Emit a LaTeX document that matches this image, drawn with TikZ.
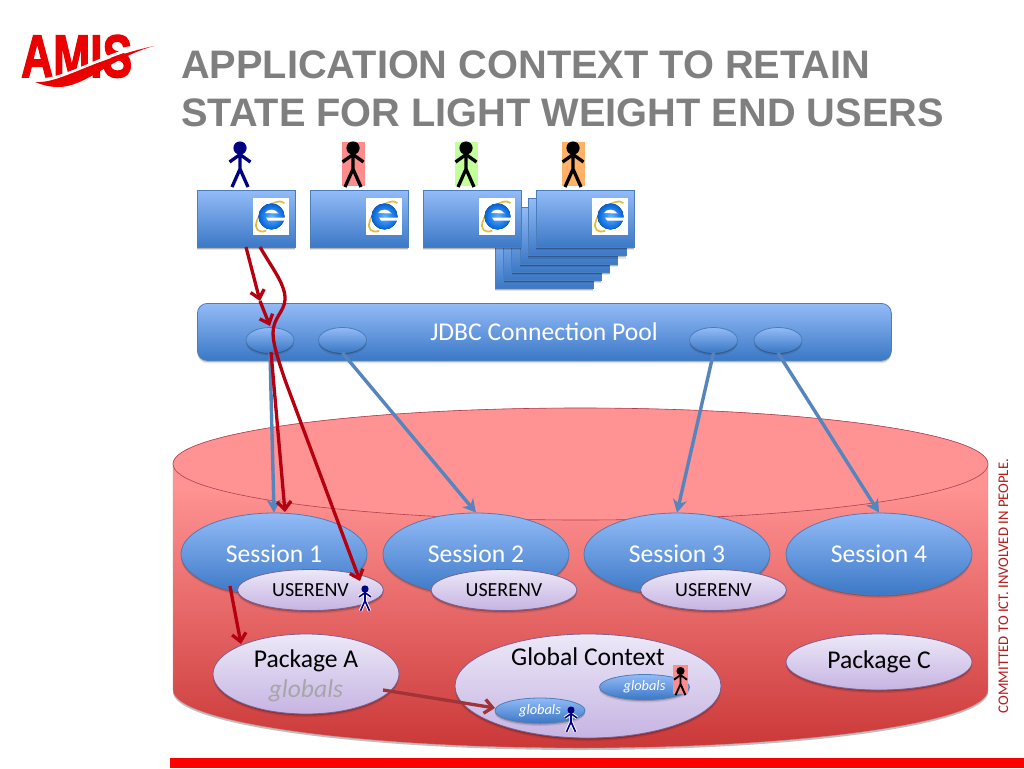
\documentclass[tikz,border=0pt]{standalone}
\usepackage{fontspec}
\usepackage{graphicx}
\setmainfont{Carlito}
\newfontfamily\headfont{Liberation Sans}
\newfontfamily\logofont{Liberation Sans}[BoldFeatures={FakeBold=2.5}]
\usetikzlibrary{shapes.geometric,shadows,arrows.meta}
\definecolor{blueedge}{HTML}{4A7EBB}
\definecolor{bluetop}{HTML}{93BBF7}
\definecolor{bluebot}{HTML}{3B78C6}
\definecolor{liltop}{HTML}{ECE8F8}
\definecolor{lilbot}{HTML}{C6B4E2}
\definecolor{liledge}{HTML}{7A5F90}
\definecolor{arrowblue}{HTML}{5585BC}
\definecolor{arrowred}{HTML}{B5000F}
\definecolor{arrowbrown}{HTML}{A03436}
\definecolor{titlegrey}{HTML}{7F7F7F}
\definecolor{figblue}{HTML}{000080}
\definecolor{cyltop}{HTML}{FF9292}
\definecolor{cylbot}{HTML}{CB3838}
\definecolor{cyledge}{HTML}{B04050}
\definecolor{ringgold}{HTML}{E2BC3C}
\pgfdeclareverticalshading{cylshade}{100bp}{color(0bp)=(cylbot); color(25bp)=(cylbot); color(63bp)=(cyltop); color(100bp)=(cyltop)}
\tikzset{
  softshadow/.style={general shadow={shadow yshift=-3pt,fill=black,opacity=.10},
                     general shadow={shadow yshift=-1.5pt,fill=black,opacity=.22}},
  bluefill/.style={top color=bluetop,bottom color=bluebot,draw=blueedge,line width=.8pt,softshadow},
  lilfill/.style={top color=liltop,bottom color=lilbot,draw=liledge,line width=.8pt,softshadow},
  browser/.style={rectangle,bluefill,anchor=north west,minimum width=97.8pt,minimum height=57pt,inner sep=0pt},
  poolstub/.style={ellipse,bluefill,minimum width=48pt,minimum height=25pt,inner sep=0pt},
  session/.style={ellipse,bluefill,minimum width=186pt,minimum height=82pt,inner sep=0pt,text=white,font=\fontsize{25.6}{28}\selectfont},
  envnode/.style={ellipse,lilfill,minimum width=146pt,minimum height=41pt,inner sep=0pt,font=\fontsize{20}{22}\selectfont},
  smallglob/.style={ellipse,bluefill,minimum width=90pt,minimum height=25pt,inner sep=0pt,text=white,font=\fontsize{14.4}{16}\selectfont\itshape},
  bigtext/.style={inner sep=0pt,font=\fontsize{25.6}{28}\selectfont},
  bluearrow/.style={draw=arrowblue,line width=3.4pt,-{Stealth[length=13pt,width=14pt,inset=4pt]}},
  redarrow/.style={draw=arrowred,line width=3.3pt,-{Straight Barb[length=8pt,width=14pt]}},
  pics/person/.style 2 args={code={
    \fill[#1] (0,0) circle[radius=6.6];
    \draw[#1,line width=#2,line join=round]
      (0,5) -- (0,21) (-8,39) -- (0,21) -- (8,39)
      (-10.5,14) -- (0,6.5) -- (10.5,14);
  }},
  pics/ieicon/.style={code={
    \fill[white] (-18,-18.5) rectangle (18,18.5);
    \draw[draw=ringgold,line width=1.7pt,rotate=45]
       (19,0) arc[start angle=0,end angle=225,x radius=19pt,y radius=9.5pt];
    \fill[inner color=cyan!50!blue!60,outer color=blue!55!cyan!85!black] (0.5,0) circle[radius=13];
    \fill[white] (-6,-3.5) .. controls (-4,-8) and (5,-8) .. (7.5,-3) -- cycle;
    \fill[white] (-5,1) -- (15,1) -- (15,4) -- (-3,4) -- cycle;
  }}
}
\begin{document}
\begin{tikzpicture}[x=1pt,y=-1pt]
\useasboundingbox (0,0) rectangle (1024,768);
\fill[white] (0,0) rectangle (1024,768);

% logo
\node[anchor=base west,inner sep=0pt,text=red!92!black] (logo) at (21,77)
  {\logofont\fontsize{60}{60}\selectfont\bfseries\scalebox{.74}[1]{AMIS}};
\draw[white,line width=3pt] (26,80) .. controls (65,84) and (95,56) .. (150,44);
\fill[red!92!black] (35,82) .. controls (60,84) and (90,60) .. (154,46)
   .. controls (110,58) and (85,88) .. (57,87) .. controls (50,87) and (42,85) .. (35,82) -- cycle;

% title
\node[anchor=base west,inner sep=0pt,text=titlegrey,font=\headfont\fontsize{39.75}{42}\selectfont\bfseries] (t1) at (181,78) {APPLICATION CONTEXT TO RETAIN};
\node[anchor=base west,inner sep=0pt,text=titlegrey,font=\headfont\fontsize{39.75}{42}\selectfont\bfseries] (t2) at (181,126) {STATE FOR LIGHT WEIGHT END USERS};

% coloured backgrounds of the users
\fill[red!45] (342,142) rectangle (365,186);
\fill[green!60!yellow!40] (455,142) rectangle (478,186);
\fill[orange!60] (562,142) rectangle (585,186);
\pic at (240,148) {person={figblue}{3.3pt}};
\pic at (353,148) {person={black}{3.3pt}};
\pic at (466,148) {person={black}{3.3pt}};
\pic at (573,148) {person={black}{3.3pt}};

% browsers
\foreach \i/\xx/\yy in {5/495/231,4/503.2/223,3/511.4/214.8,2/519.6/206.6,1/527.8/198.4}
  \node[browser] (stack\i) at (\xx,\yy) {};
\node[browser] (b1) at (197,190) {};
\node[browser] (b2) at (310,190) {};
\node[browser] (b3) at (423,190) {};
\node[browser] (b4) at (536,190) {};
\pic at (271,216.5) {ieicon};
\pic at (384,216.5) {ieicon};
\pic at (497,216.5) {ieicon};
\pic at (610,216.5) {ieicon};

% pool
\node[rectangle,rounded corners=10pt,bluefill,anchor=north west,minimum width=694pt,minimum height=57pt,inner sep=0pt] (pool) at (197,303) {};
\node[inner sep=0pt,text=white,font=\fontsize{25.6}{28}\selectfont] (poollabel) at (544,332) {JDBC Connection Pool};
\node[poolstub] (e1) at (270,340) {};
\node[poolstub] (e2) at (342.5,340) {};
\node[poolstub] (e3) at (713.5,340) {};
\node[poolstub] (e4) at (778,340) {};

% database
\path[shade,shading=cylshade,draw=cyledge!60,line width=.3pt,general shadow={shadow yshift=-2pt,fill=black,opacity=.25}]
  (173,464) -- (173,690) arc[start angle=180,end angle=360,x radius=407.5pt,y radius=58pt]
  -- (988,464) arc[start angle=0,end angle=180,x radius=407.5pt,y radius=56pt] -- cycle;
\draw[draw=cyledge,line width=.6pt,fill=cyltop] (580.5,464) ellipse[x radius=407.5pt,y radius=56pt];

% sessions
\node[session] (s1) at (274,554) {Session 1};
\node[session] (s2) at (476,554) {Session 2};
\node[session] (s3) at (677,554) {Session 3};
\node[session] (s4) at (879,554) {Session 4};
\node[envnode] (u1) at (310.5,590) {USERENV};
\node[envnode] (u2) at (504,590) {USERENV};
\node[envnode] (u3) at (713.5,590) {USERENV};

% packages
\node[ellipse,lilfill,minimum width=186pt,minimum height=80pt,inner sep=0pt] (pa) at (306,674) {};
\node[bigtext] (pal) at (306,661) {Package A};
\node[bigtext,text=black!35,font=\fontsize{25.6}{28}\selectfont\itshape] (pag) at (306,691) {globals};
\node[ellipse,lilfill,minimum width=266pt,minimum height=104pt,inner sep=0pt] (gc) at (588,686) {};
\node[bigtext] (gcl) at (588,657) {Global Context};
\node[ellipse,lilfill,minimum width=186pt,minimum height=56pt,inner sep=0pt,font=\fontsize{25.6}{28}\selectfont] (pc) at (879,662) {Package C};
\node[smallglob] (g1) at (540,710.5) {globals};
\node[smallglob] (g2) at (644.5,687) {globals};

% connectors
\draw[bluearrow] (e1.south) -- (s1.north);
\draw[bluearrow] (e2.south) -- (s2.north);
\draw[bluearrow] (e3.south) -- (s3.north);
\draw[bluearrow] (e4.south) -- (s4.north);

\coordinate (ra) at (246,247);
\coordinate (rb) at (260,301);
\coordinate (rc) at (270,326);
\coordinate (rd) at (260,247);
\coordinate (re) at (360,581);
\coordinate (rf) at (230,586);
\coordinate (rg) at (241,644);
\coordinate (rh) at (271,352);
\coordinate (ri) at (285,512);
\coordinate (bra) at (383,690);
\coordinate (brb) at (495,708);

\draw[redarrow] (ra) -- (rb);
\draw[redarrow] (rb) -- (rc);
\draw[redarrow] (rd) .. controls (272,268) and (286,285) .. (285,300)
   .. controls (284,312) and (273,318) .. (273,333)
   .. controls (273,345) and (280,365) .. (285,380) -- (re);
\draw[redarrow] (rh) -- (ri);
\draw[redarrow] (rf) -- (rg);
\draw[draw=arrowbrown,line width=3.3pt,-{Straight Barb[length=8pt,width=14pt]}] (bra) -- (brb);

% small figures on top
\pic[scale=.56] at (365,589) {person={white}{3.4pt}};
\pic[scale=.56] at (365,589) {person={figblue}{1.6pt}};
\pic[scale=.56] at (571,710) {person={white}{3.4pt}};
\pic[scale=.56] at (571,710) {person={figblue}{1.6pt}};
\fill[red!45] (673,665) rectangle (688,694);
\pic[scale=.62] at (680.5,671) {person={black}{1.9pt}};

% footer
\node[rotate=90,inner sep=0pt,text=red!70!black!90,font=\fontsize{14.7}{17}\selectfont] (claim) at (1003.5,586) {COMMITTED TO ICT. INVOLVED IN PEOPLE.};
\fill[red] (170,758) rectangle (1024,768);
\end{tikzpicture}
\end{document}
